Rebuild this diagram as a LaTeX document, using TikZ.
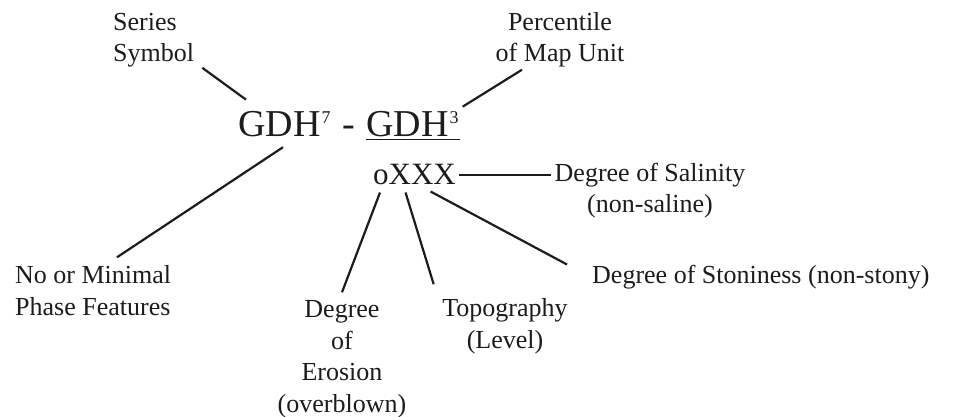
\documentclass[tikz,border=0pt]{standalone}
\usepackage{fontspec}
\setmainfont{Liberation Serif}
\usetikzlibrary{calc}
\definecolor{inkdark}{HTML}{1C1C1C}
\newsavebox\ulbox
\newcommand\supnum[1]{\kern1pt\raisebox{13pt}{\fontsize{18pt}{18pt}\selectfont #1}\kern1pt}
\newcommand\lowul[1]{\sbox\ulbox{#1}\rlap{\rule[-3.5pt]{\wd\ulbox}{1.8pt}}\usebox\ulbox}
\tikzset{
  % beschriftungen
  lbl/.style={inner sep=0pt,text=inkdark,font=\fontsize{26pt}{31.5pt}\selectfont},
  big/.style={inner sep=0pt,text=inkdark,font=\fontsize{38pt}{40pt}\selectfont},
  mid/.style={inner sep=0pt,text=inkdark,font=\fontsize{31pt}{33pt}\selectfont},
  % verbindungen
  lnk/.style={draw=inkdark,line width=2.2pt},
}
\begin{document}
\begin{tikzpicture}[x=1pt,y=-1pt]
  \useasboundingbox (0,0) rectangle (954,417);
  % symbol und phasen
  \node[big,anchor=base west] (sym) at (238,137)
    {GDH\supnum{7}\hspace{11pt}-\hspace{11pt}\lowul{GDH\supnum{3}}};
  \node[mid,anchor=base west] (phase) at (373,185) {oXXX};
  % erklaerungen (base = letzte zeile)
  \node[lbl,anchor=base west,align=left] (series) at (113,62) {Series\\Symbol};
  \node[lbl,anchor=base,align=center] (pct) at (560,62) {Percentile\\of Map Unit};
  \node[lbl,anchor=base west,align=left] (minimal) at (15,315) {No or Minimal\\Phase Features};
  \node[lbl,anchor=base,align=center] (salin) at (650,213) {Degree of Salinity\\(non-saline)};
  \node[lbl,anchor=base west] (stony) at (592,283) {Degree of Stoniness (non-stony)};
  \node[lbl,anchor=base,align=center] (erosion) at (342,412) {Degree\\of\\Erosion\\(overblown)};
  \node[lbl,anchor=base,align=center] (topo) at (505,348) {Topography\\(Level)};
  % linien
  \draw[lnk] ([xshift=8pt]series.south east) -- ([xshift=8pt,yshift=12pt]sym.north west);
  \draw[lnk] ([xshift=-38pt,yshift=-2pt]pct.south) -- ([xshift=3pt,yshift=5pt]sym.north east);
  \draw[lnk] ([xshift=45pt,yshift=-6.5pt]sym.south west) -- ([xshift=102pt,yshift=8pt]minimal.north west);
  \draw[lnk] ([xshift=3pt]phase.east) -- ([xshift=-4pt]phase.east -| salin.west);
  \draw[lnk] ([xshift=7pt,yshift=-7pt]phase.south west) -- ([yshift=8pt]erosion.north);
  \draw[lnk] ([xshift=-9pt,yshift=-7pt]phase.south) -- ([xshift=-8.5pt,yshift=14pt]topo.north west);
  \draw[lnk] ([xshift=16pt,yshift=-6pt]phase.south) -- ([xshift=-25pt]stony.north west);
\end{tikzpicture}
\end{document}
